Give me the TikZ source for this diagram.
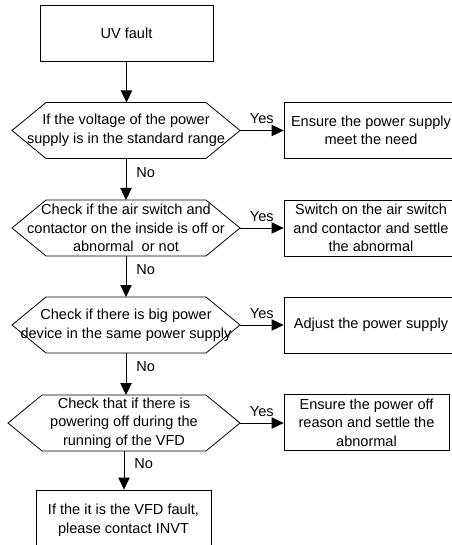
\documentclass[tikz,border=0pt]{standalone}
\usepackage{fontspec}
\setmainfont{Liberation Sans}
\usetikzlibrary{arrows.meta}

\begin{document}
\begin{tikzpicture}[x=0.75pt,y=0.75pt,yscale=-1,
  every node/.style={font=\fontsize{10.9}{13.9}\selectfont, align=center},
  box/.style={draw, line width=0.6pt, minimum height=42pt, inner sep=0pt},
  hexbox/.style={minimum width=171pt, minimum height=42pt, inner sep=0pt, outer sep=0pt},
  arr/.style={line width=0.6pt, -{Triangle[length=9pt,width=8.5pt]}},
  lbl/.style={inner sep=1pt}]
\clip (0,0) rectangle (452,545);

% Start
\node[box, minimum width=129.75pt] (start) at (126.5,33) {UV fault};

% Questions
\node[hexbox] (q1) at (126,130.5) {If the voltage of the power\\supply is in the standard range};
\node[hexbox] (q2) at (126,228) {Check if the air switch and\\contactor on the inside is off or\\abnormal~ or not};
\node[hexbox] (q3) at (126,325) {Check if there is big power\\device in the same power supply};
\node[hexbox, minimum width=174pt] (q4) at (124,423) {Check that if there is\\powering off during the\\running of the VFD};

\foreach \q in {q1,q2,q3,q4}
  \draw[line width=0.6pt] (\q.west) -- ([xshift=25.5pt]\q.north west) -- ([xshift=-25.5pt]\q.north east)
    -- (\q.east) -- ([xshift=-25.5pt]\q.south east) -- ([xshift=25.5pt]\q.south west) -- cycle;

% Actions
\node[box, minimum width=130.5pt] (a1) at (371,130.5) {Ensure the power supply\\meet the need};
\node[box, minimum width=130.5pt] (a2) at (371,228) {Switch on the air switch\\and contactor and settle\\the abnormal};
\node[box, minimum width=130.5pt] (a3) at (371,325) {Adjust the power supply};
\node[box, minimum width=123.75pt] (a4) at (366.5,422.5) {Ensure the power off\\reason and settle the\\abnormal};
\node[box, minimum width=131.25pt, minimum height=45pt] (end) at (123.5,520) {If the it is the VFD fault,\\please contact INVT};

% Connectors
\draw[arr] (start.south) -- (start.south |- q1.north);
\draw[arr] (q1) -- (q2) node[pos=0.33, right=6.5pt, lbl] {No};
\draw[arr] (q2) -- (q3) node[pos=0.33, right=6.5pt, lbl] {No};
\draw[arr] (q3.south) -- (q3.south |- q4.north) node[pos=0.33, right=6.5pt, lbl] {No};
\draw[arr] (q4.south) -- (q4.south |- end.north) node[pos=0.33, right=6.5pt, lbl] {No};

\foreach \i in {1,...,4}
  \draw[arr] (q\i.east) -- (q\i.east -| a\i.west) node[midway, above=3.5pt, lbl] {Yes};
\end{tikzpicture}
\end{document}
